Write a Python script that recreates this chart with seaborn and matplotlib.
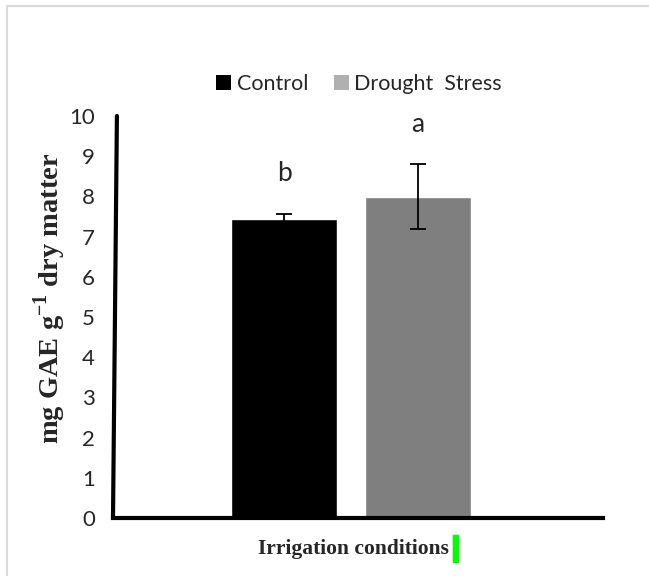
import matplotlib
matplotlib.use("Agg")
import matplotlib.pyplot as plt
from matplotlib.patches import Patch, Rectangle
from matplotlib.lines import Line2D
import seaborn as sns

# data
conditions = ["Control", "Drought  Stress"]
means = [7.44, 7.99]
errors = [0.12, 0.81]
letters = ["b", "a"]
bar_colors = ["#000000", "#7f7f7f"]
legend_colors = ["#000000", "#b0b0b0"]
yticks = list(range(0, 11))

sns.set_style("white")
plt.rcParams["font.family"] = ["Lato", "DejaVu Sans"]
plt.rcParams["mathtext.fontset"] = "custom"
plt.rcParams["mathtext.bf"] = "Liberation Serif:bold"
plt.rcParams["mathtext.rm"] = "Liberation Serif:bold"

fig = plt.figure(figsize=(6.49, 5.76), dpi=100)
ax = fig.add_axes([113 / 649, 1 - 518 / 576, 490 / 649, (518 - 116) / 576])

sns.barplot(x=conditions, y=means, hue=conditions, palette=bar_colors,
            width=0.79, legend=False, errorbar=None, ax=ax)
ax.errorbar(range(len(means)), means, yerr=errors, fmt="none",
            ecolor="black", elinewidth=1.3, capsize=6, capthick=1.3)

for i, (m, e, t) in enumerate(zip(means, errors, letters)):
    ax.text(i, m + e + 1.0, t, ha="center", va="center", fontsize=19)

ax.set_xlim(-1.276, 2.38)
ax.set_ylim(0, 10)
ax.set_yticks(yticks)
ax.set_xticks([])
ax.tick_params(axis="y", length=0, pad=13, labelsize=16)
ax.set_xlabel("")
ax.set_ylabel("")

for s in ["top", "right", "left"]:
    ax.spines[s].set_visible(False)
ax.spines["bottom"].set_linewidth(3)
ax.spines["bottom"].set_color("black")
# slightly slanted y axis line as in the original
ax.add_line(Line2D([0, 0.008], [0, 1], transform=ax.transAxes, color="black",
                   lw=3, clip_on=False))

fig.text(50 / 649, 1 - 298 / 576, "mg GAE g$^{\\mathbf{-1}}$ dry matter",
         rotation=90, ha="center", va="center", fontsize=20.5,
         fontweight="bold", family="Liberation Serif")
fig.text(353 / 649, 1 - 549 / 576, "Irrigation conditions", ha="center",
         va="center", fontsize=15.5, fontweight="bold", family="Liberation Serif")

handles = [Patch(facecolor=c, edgecolor="none") for c in legend_colors]
fig.legend(handles, conditions, loc="center", bbox_to_anchor=(359 / 649, 1 - 84 / 576),
           ncol=2, frameon=False, fontsize=15.5, handlelength=0.7, handleheight=0.7,
           handletextpad=0.25, columnspacing=1.2)

# page border and cursor mark
fig.patches.append(Line2D([6.5 / 649, 6.5 / 649, 1], [0, 1 - 5.5 / 576, 1 - 5.5 / 576],
                          transform=fig.transFigure, color="#d9d9d9", lw=1.5))
fig.patches.append(Rectangle((453 / 649, 1 - 562 / 576), 5 / 649, 27 / 576,
                             transform=fig.transFigure, color="#00ff00"))

fig.savefig("out.png", dpi=100)
